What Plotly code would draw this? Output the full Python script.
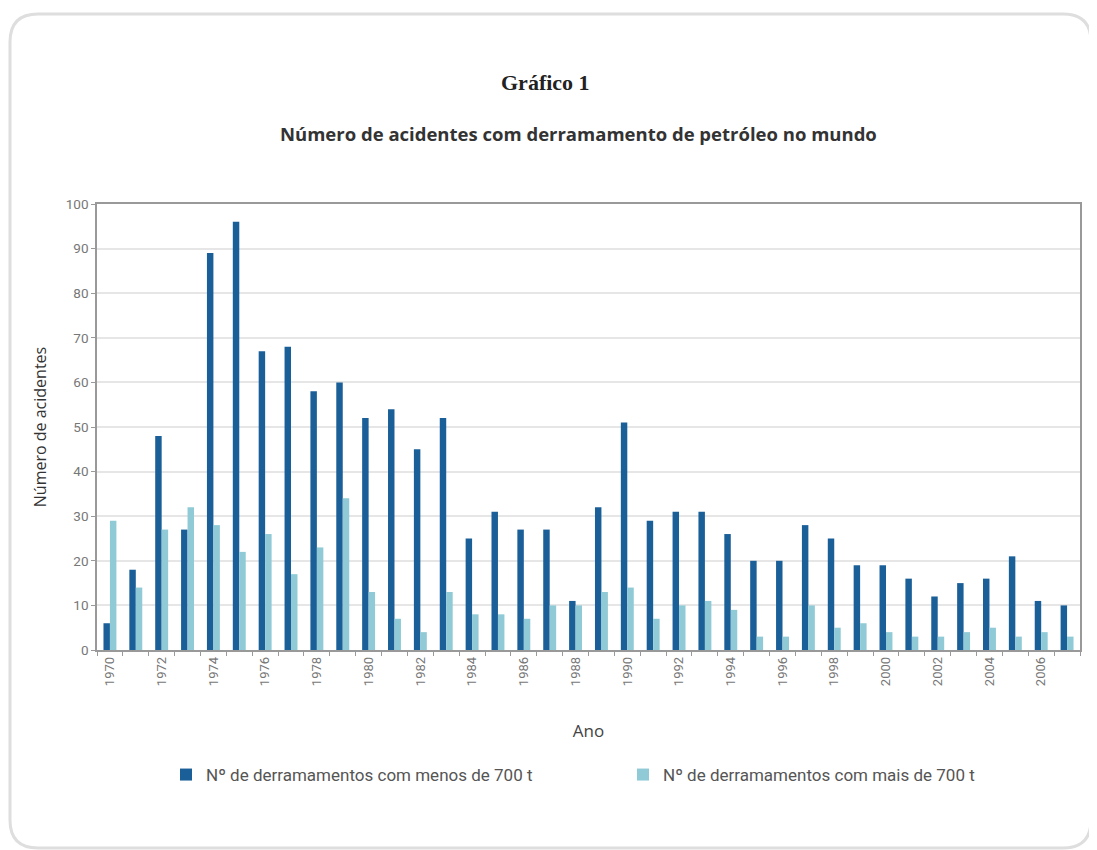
import plotly.graph_objects as go

years = [str(y) for y in range(1970, 2008)]
menos_700 = [6, 18, 48, 27, 89, 96, 67, 68, 58, 60, 52, 54, 45, 52, 25, 31, 27, 27, 11, 32,
             51, 29, 31, 31, 26, 20, 20, 28, 25, 19, 19, 16, 12, 15, 16, 21, 11, 10]
mais_700 = [29, 14, 27, 32, 28, 22, 26, 17, 23, 34, 13, 7, 4, 13, 8, 8, 7, 10, 10, 13,
            14, 7, 10, 11, 9, 3, 3, 10, 5, 6, 4, 3, 3, 4, 5, 3, 4, 3]
tick_labels = [y if int(y) % 2 == 0 else "" for y in years]

OFF = 8  # page offset of the figure
W, H = 1097, 850
L, T = 97 - OFF, 204 - OFF
R = W - (1080 - OFF)
B = H - (650 - OFF)
pw, ph = W - L - R, H - T - B

def fx(sx):
    return (sx - OFF - L) / pw

def fy(sy):
    return (H - B - (sy - OFF)) / ph

COND = "Roboto, sans-serif"

fig = go.Figure()
fig.add_trace(go.Bar(x=years, y=menos_700, name="Nº de derramamentos com menos de 700 t",
                     marker=dict(color="#1b5f98", line=dict(width=0)),
                     legend="legend", showlegend=True))
fig.add_trace(go.Bar(x=years, y=mais_700, name="Nº de derramamentos com mais de 700 t",
                     marker=dict(color="#8fcad6", line=dict(width=0)),
                     legend="legend2", showlegend=True))

# rounded frame
x0, y0, x1, y1, r = 10, 14, 1091, 848, 28
path = (f"M {fx(x0+r)},{fy(y0)} L {fx(x1-r)},{fy(y0)} Q {fx(x1)},{fy(y0)} {fx(x1)},{fy(y0+r)} "
        f"L {fx(x1)},{fy(y1-r)} Q {fx(x1)},{fy(y1)} {fx(x1-r)},{fy(y1)} "
        f"L {fx(x0+r)},{fy(y1)} Q {fx(x0)},{fy(y1)} {fx(x0)},{fy(y1-r)} "
        f"L {fx(x0)},{fy(y0+r)} Q {fx(x0)},{fy(y0)} {fx(x0+r)},{fy(y0)} Z")

legend_font = dict(family=COND, size=17, color="#555")

fig.update_layout(
    width=W, height=H,
    margin=dict(l=L, r=R, t=T, b=B),
    paper_bgcolor="white", plot_bgcolor="white",
    barmode="group", bargap=0.5, bargroupgap=0.0,
    showlegend=True,
    font=dict(family="Open Sans, sans-serif", color="#444"),
    shapes=[dict(type="path", path=path, xref="paper", yref="paper",
                 line=dict(color="#dedede", width=3), layer="below")],
    annotations=[
        dict(text="<b>Gráfico 1</b>", x=fx(545), y=fy(82), xref="paper", yref="paper",
             showarrow=False, xanchor="center", yanchor="middle",
             font=dict(family="Liberation Serif, serif", size=22, color="#222")),
        dict(text="<b>Número de acidentes com derramamento de petróleo no mundo</b>",
             x=fx(578), y=fy(133), xref="paper", yref="paper",
             showarrow=False, xanchor="center", yanchor="middle",
             font=dict(family="Open Sans, sans-serif", size=18.5, color="#333")),
    ],
    xaxis=dict(
        type="category", tickmode="array", tickvals=years, ticktext=tick_labels,
        tickson="boundaries", ticks="outside", ticklen=4, tickcolor="#999",
        tickangle=-90, tickfont=dict(family=COND, size=13, color="#777"),
        showline=True, linecolor="#999", linewidth=1.5, mirror=True, showgrid=False,
        title=dict(text="Ano", standoff=40, font=dict(family="Open Sans, sans-serif", size=17, color="#444")),
    ),
    yaxis=dict(
        range=[0, 100], dtick=10, ticks="outside", ticklen=4, tickcolor="#999",
        tickfont=dict(family=COND, size=13.5, color="#777"),
        showline=True, linecolor="#999", linewidth=1.5, mirror=True,
        showgrid=True, gridcolor="#e6e6e6", gridwidth=1.5, zeroline=False,
        title=dict(text="Número de acidentes", standoff=15,
                   font=dict(family="Open Sans, sans-serif", size=16, color="#333")),
    ),
    legend=dict(visible=True, orientation="h", x=fx(166), y=fy(775), xanchor="left", yanchor="middle",
                font=legend_font, bgcolor="rgba(0,0,0,0)"),
    legend2=dict(visible=True, orientation="h", x=fx(623), y=fy(775), xanchor="left", yanchor="middle",
                 font=legend_font, bgcolor="rgba(0,0,0,0)"),
)

fig.write_html("out.html")
